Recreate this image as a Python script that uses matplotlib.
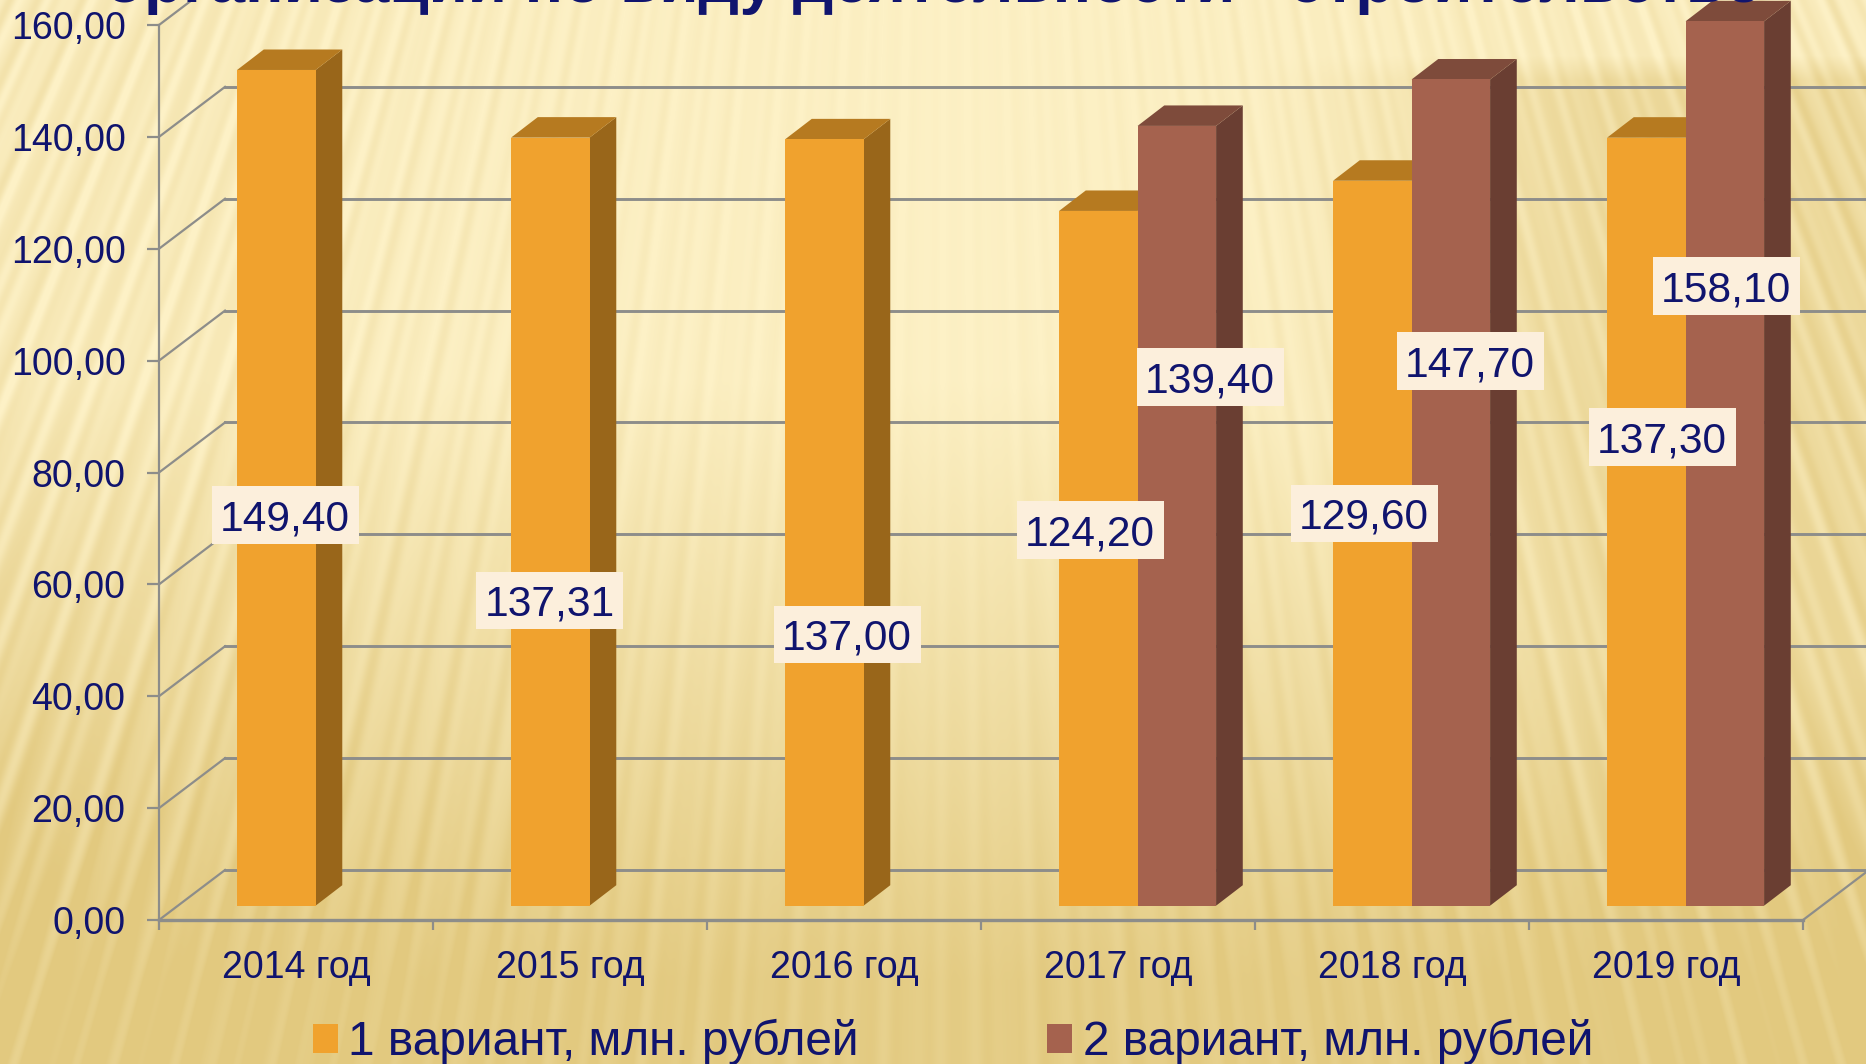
import numpy as np
import matplotlib
matplotlib.use("Agg")
import matplotlib.pyplot as plt
from matplotlib.patches import Polygon, Rectangle
from matplotlib.colors import to_rgb

plt.rcParams['font.family'] = ['Liberation Sans', 'DejaVu Sans']

W, H = 1866, 1064
NAVY = '#10146e'

years = ['2014 год', '2015 год', '2016 год', '2017 год', '2018 год', '2019 год']
variant1 = [149.40, 137.31, 137.00, 124.20, 129.60, 137.30]
variant2 = [None, None, None, 139.40, 147.70, 158.10]
series_names = ['1 вариант, млн. рублей', '2 вариант, млн. рублей']
yticks = [0, 20, 40, 60, 80, 100, 120, 140, 160]
title = 'организации по виду деятельности «строительство»'

# where the value boxes sit, in picture pixels (they were placed by hand)
pos1 = [(285, 515), (550, 600), (847, 634), (1090, 530), (1364, 513), (1662, 437)]
pos2 = [None, None, None, (1210, 377), (1470, 361), (1726, 286)]

fig = plt.figure(figsize=(W / 100, H / 100), dpi=100)

# background texture: gradient with a fan of soft rays
bg_ax = fig.add_axes([0, 0, 1, 1])
yy, xx = np.mgrid[0:H, 0:W]
theta = np.arctan2(xx - 950.0, yy + 2000.0)
rays = (np.sin(theta * 640) + 0.55 * np.sin(theta * 410 + 1.0) + 0.45 * np.sin(theta * 1030 + 2.0)) / 2.0
edge = np.abs(xx - 950.0) / 950.0
down = np.clip((yy - 380.0) / 600.0, 0, 1)
dark = down * 0.85
dark = np.maximum(dark, 0.42 * np.clip((xx - 1250.0) / 350.0, 0, 1) * np.clip((yy - 55.0) / 25.0, 0, 1))
dark = np.clip(dark + 0.08 * edge, 0, 1)
strength = 0.08 + 0.42 * edge + 0.10 * down
dark = np.clip(dark + strength * (rays * 0.5 + 0.2), 0, 1)
light = np.array(to_rgb('#fdf1c6'))
deep = np.array(to_rgb('#e2c97f'))
img = light + (deep - light) * dark[..., None]
bg_ax.imshow(img, aspect='auto', interpolation='bilinear')
bg_ax.axis('off')

# main axes: 0..6 categories, 0..160 values
ax = fig.add_axes([159 / W, 1 - 920 / H, (1803 - 159) / W, (920 - 25) / H])
ax.patch.set_alpha(0)
ax.set_xlim(0, 6)
ax.set_ylim(0, 160)

wall_dx, wall_dy = 0.241, 8.94
bar_dx, bar_dy = 0.0974, 3.66
base = 2.56
gap, bar_w = 0.285, 0.2865
grid_col = '#8d8d8a'

for v in yticks:
    ax.plot([0, wall_dx], [v, v + wall_dy], color=grid_col, lw=1.6, clip_on=False, zorder=1)
    ax.plot([wall_dx, 6 + wall_dx], [v + wall_dy, v + wall_dy], color=grid_col, lw=2.1, clip_on=False, zorder=1)
ax.plot([6, 6 + wall_dx], [0, wall_dy], color=grid_col, lw=1.6, clip_on=False, zorder=1)


def draw_bars(values, offset, front, side, top, z):
    for i, v in enumerate(values):
        if v is None:
            continue
        x0 = i + gap + offset
        x1 = x0 + bar_w
        y1 = base + v
        ax.add_patch(Polygon([(x1, base), (x1 + bar_dx, base + bar_dy), (x1 + bar_dx, y1 + bar_dy), (x1, y1)],
                             fc=side, ec='none', clip_on=False, zorder=z))
        ax.add_patch(Polygon([(x0, y1), (x0 + bar_dx, y1 + bar_dy), (x1 + bar_dx, y1 + bar_dy), (x1, y1)],
                             fc=top, ec='none', clip_on=False, zorder=z))
        ax.bar(x0, v, width=bar_w, bottom=base, align='edge', color=front, clip_on=False, zorder=z + 0.1)


draw_bars(variant1, 0, '#f0a22e', '#99661a', '#b67a20', 3)
draw_bars(variant2, bar_w, '#a5624e', '#6a3e32', '#7e4b3b', 4)

# axes look
for s in ['top', 'right']:
    ax.spines[s].set_visible(False)
for s in ['left', 'bottom']:
    ax.spines[s].set_color(grid_col)
    ax.spines[s].set_zorder(2)
ax.spines['left'].set_linewidth(1.6)
ax.spines['bottom'].set_linewidth(2.4)

ax.set_yticks(yticks)
ax.set_yticklabels([f'{v:.2f}'.replace('.', ',') for v in yticks], fontsize=27, color=NAVY)
ax.tick_params(axis='y', length=8.6, width=1.6, color=grid_col, pad=15.5)
ax.set_xticks(range(7))
ax.set_xticklabels([])
ax.tick_params(axis='x', which='major', length=7, width=1.6, color=grid_col)
ax.set_xticks(np.arange(6) + 0.5, minor=True)
ax.set_xticklabels(years, minor=True, fontsize=27, color=NAVY)
ax.tick_params(axis='x', which='minor', length=0, pad=21.5)

# value boxes
for vals, pos in [(variant1, pos1), (variant2, pos2)]:
    for v, p in zip(vals, pos):
        if v is None:
            continue
        fx, fy = p[0] / W, 1 - p[1] / H
        fig.add_artist(Rectangle((fx - 73.5 / W, fy - 28.5 / H), 147 / W, 57 / H, transform=fig.transFigure,
                                 fc='#fcefdc', ec='none', zorder=6))
        fig.text(fx, fy, f'{v:.2f}'.replace('.', ','), fontsize=30.6, color=NAVY, ha='center', va='center_baseline',
                 zorder=7)

# title runs off the top of the picture
fig.text(105 / W, 1 - 2 / H, title, fontsize=46, fontweight='bold', color=NAVY, ha='left', va='baseline', zorder=7)

# legend
handles = [Rectangle((0, 0), 1, 1, fc='#f0a22e'), Rectangle((0, 0), 1, 1, fc='#a5624e')]
fig.legend(handles, series_names, ncol=2, frameon=False, fontsize=34.4, labelcolor=NAVY,
           handlelength=0.52, handleheight=0.55, handletextpad=0.22, columnspacing=3.95,
           loc='lower left', bbox_to_anchor=(308 / W, -6 / H), borderaxespad=0, borderpad=0.1)

fig.savefig('out.png', dpi=100)
